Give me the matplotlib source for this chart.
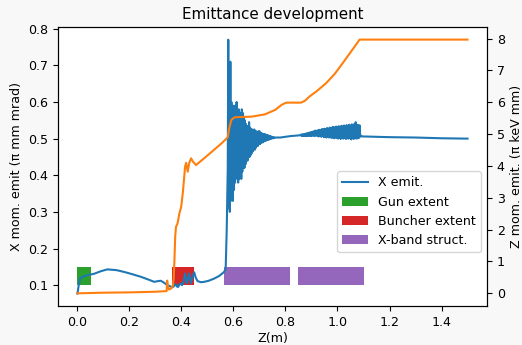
import numpy as np
import matplotlib
matplotlib.use("Agg")
import matplotlib.pyplot as plt

plt.rcParams["font.size"] = 9.1

# X emittance, smooth part up to the X-band entrance (z in m, pi mm mrad)
z_x_start = [0.0, 0.005, 0.01, 0.02, 0.038, 0.064, 0.09, 0.115, 0.15, 0.18,
             0.21, 0.243, 0.27, 0.295, 0.31, 0.32, 0.33, 0.346, 0.365, 0.372,
             0.378, 0.383, 0.387, 0.392, 0.397, 0.402, 0.408, 0.414, 0.42, 0.425,
             0.43, 0.436, 0.442, 0.449, 0.455, 0.462, 0.475, 0.487, 0.505, 0.526,
             0.545, 0.564, 0.570, 0.574, 0.576]
emit_x_start = [0.077, 0.100, 0.118, 0.123, 0.127, 0.131, 0.138, 0.143, 0.141, 0.136,
                0.130, 0.123, 0.116, 0.109, 0.111, 0.112, 0.108, 0.100, 0.094, 0.098,
                0.103, 0.096, 0.095, 0.101, 0.105, 0.100, 0.109, 0.132, 0.105, 0.118,
                0.132, 0.105, 0.120, 0.135, 0.120, 0.111, 0.108, 0.109, 0.112, 0.118,
                0.125, 0.136, 0.145, 0.250, 0.330]

# oscillation inside the first X-band section, sampled every 2 mm from 0.578 m
emit_x_osc = [0.42, 0.77, 0.31, 0.62, 0.30, 0.71, 0.33, 0.60, 0.35, 0.58,
              0.33, 0.59, 0.36, 0.58, 0.38, 0.59, 0.40, 0.60, 0.39, 0.57,
              0.38, 0.58, 0.39, 0.57, 0.40, 0.56, 0.39, 0.58, 0.41, 0.57,
              0.42, 0.56, 0.42, 0.55, 0.43, 0.54, 0.44, 0.53, 0.44, 0.535,
              0.45, 0.545, 0.45, 0.53, 0.455, 0.525, 0.46, 0.525, 0.465, 0.52,
              0.47, 0.525, 0.47, 0.52, 0.475, 0.52, 0.48, 0.518, 0.48, 0.52,
              0.485, 0.52, 0.485, 0.515, 0.488, 0.515, 0.49, 0.513, 0.49, 0.512,
              0.493, 0.512, 0.494, 0.511, 0.495, 0.51, 0.496, 0.509, 0.497, 0.508,
              0.498, 0.507, 0.499, 0.506, 0.500, 0.505, 0.501, 0.504, 0.501, 0.503,
              0.502, 0.503]

z_x_mid = [0.78, 0.80, 0.82, 0.84, 0.855]
emit_x_mid = [0.503, 0.505, 0.507, 0.508, 0.509]

# noise in the second section, sampled every 2.5 mm from 0.86 m
emit_x_noise = [0.511, 0.507, 0.512, 0.507, 0.512, 0.507, 0.513, 0.507, 0.514, 0.508,
                0.515, 0.507, 0.516, 0.508, 0.517, 0.507, 0.518, 0.508, 0.519, 0.508,
                0.520, 0.507, 0.522, 0.509, 0.521, 0.507, 0.523, 0.506, 0.524, 0.508,
                0.523, 0.505, 0.526, 0.507, 0.525, 0.504, 0.527, 0.506, 0.526, 0.503,
                0.529, 0.505, 0.527, 0.503, 0.530, 0.504, 0.528, 0.502, 0.531, 0.503,
                0.532, 0.501, 0.530, 0.503, 0.533, 0.502, 0.531, 0.500, 0.534, 0.503,
                0.532, 0.499, 0.535, 0.502, 0.533, 0.500, 0.536, 0.503, 0.532, 0.499,
                0.537, 0.501, 0.534, 0.500, 0.538, 0.502, 0.535, 0.498, 0.539, 0.501,
                0.536, 0.499, 0.540, 0.502, 0.545, 0.500, 0.538, 0.501, 0.537, 0.502,
                0.536, 0.505, 0.508]

z_x_end = [1.095, 1.2, 1.3, 1.4, 1.5]
emit_x_end = [0.506, 0.504, 0.503, 0.501, 0.500]

# Z emittance (pi keV mm)
z_z = [0.0, 0.1, 0.2, 0.3, 0.343, 0.345, 0.348, 0.352, 0.36, 0.367,
       0.370, 0.373, 0.376, 0.379, 0.385, 0.392, 0.399, 0.405, 0.410, 0.414,
       0.418, 0.424, 0.430, 0.437, 0.444, 0.456, 0.5, 0.554, 0.578, 0.584,
       0.592, 0.605, 0.67, 0.72, 0.76, 0.785, 0.803, 0.86, 0.875, 0.892,
       0.92, 0.956, 0.99, 1.02, 1.05, 1.085, 1.5]
emit_z = [0.0, 0.02, 0.03, 0.05, 0.07, 0.40, 0.20, 0.12, 0.15, 0.25,
          0.45, 1.04, 1.80, 2.09, 2.20, 2.51, 2.72, 3.14, 3.60, 3.98,
          4.10, 3.82, 4.10, 4.24, 4.14, 4.03, 4.33, 4.71, 4.90, 5.20,
          5.45, 5.53, 5.55, 5.62, 5.76, 5.92, 5.99, 5.99, 6.05, 6.18,
          6.35, 6.60, 6.90, 7.23, 7.57, 7.97, 7.97]

# element extents along the beamline (m)
gun = (0.0, 0.052)
buncher = (0.363, 0.447)
xband = [(0.563, 0.818), (0.847, 1.101)]

z_osc = np.round(0.578 + 0.002 * np.arange(len(emit_x_osc)), 4)
z_noise = np.round(0.86 + 0.0025 * np.arange(len(emit_x_noise)), 4)
z_x = np.concatenate([z_x_start, z_osc, z_x_mid, z_noise, z_x_end])
emit_x = np.concatenate([emit_x_start, emit_x_osc, emit_x_mid, emit_x_noise, emit_x_end])

fig = plt.figure(figsize=(5.22, 3.45), dpi=100, facecolor="#f8f8f8")
ax1 = fig.add_axes([0.111, 0.113, 0.822, 0.809])

ax1.plot(z_x, emit_x, color="C0", label="X emit.")
# bars sit between 0.1 and 0.15 on the X axis scale
ax1.bar(gun[0], height=0.05, width=gun[1] - gun[0], bottom=0.1,
        align="edge", color="C2", label="Gun extent")
ax1.bar(buncher[0], height=0.05, width=buncher[1] - buncher[0], bottom=0.1,
        align="edge", color="C3", label="Buncher extent")
ax1.bar([s for s, e in xband], height=0.05, width=[e - s for s, e in xband],
        bottom=0.1, align="edge", color="C4", label="X-band struct.")

ax1.set_xlim(-0.075, 1.575)
ax1.set_ylim(0.043, 0.805)
ax1.set_xlabel("Z(m)", labelpad=2)
ax1.set_ylabel("X mom. emit (π mm mrad)")
ax1.set_title("Emittance development")
ax1.legend(loc="lower right", bbox_to_anchor=(1.0, 0.17))

ax2 = ax1.twinx()
ax2.plot(z_z, emit_z, color="C1")
ax2.set_ylabel("Z mom. emit. (π keV mm)")

fig.savefig("out.png", dpi=100, facecolor=fig.get_facecolor())
